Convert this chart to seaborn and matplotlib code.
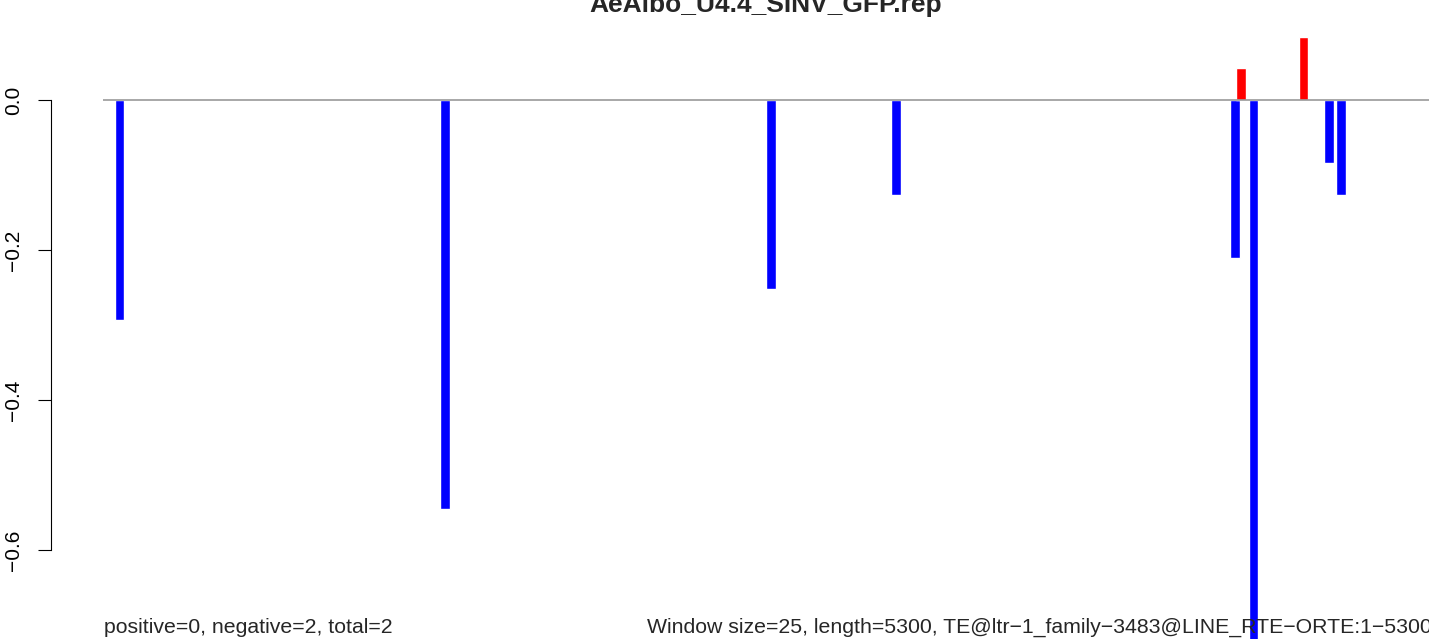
import matplotlib
matplotlib.use('Agg')
import matplotlib.pyplot as plt
import seaborn as sns
import pandas as pd

# window index (25 nt windows) and score per window
windows = [3, 55, 107, 127, 181, 182, 184, 192, 196, 198]
scores = [-0.293, -0.545, -0.252, -0.127, -0.211, 0.043, -0.80, 0.084, -0.084, -0.127]
strand = ['neg', 'neg', 'neg', 'neg', 'neg', 'pos', 'neg', 'pos', 'neg', 'neg']

yticks = [0.0, -0.2, -0.4, -0.6]
ytick_labels = ['0.0', '\u22120.2', '\u22120.4', '\u22120.6']

title = 'AeAlbo_U4.4_SINV_GFP.rep'
left_note = 'positive=0, negative=2, total=2'
right_note = ('Window size=25, length=5300, '
              'TE@ltr\u22121_family\u22123483@LINE_RTE\u2212ORTE:1\u22125300')

df = pd.DataFrame({'window': windows, 'score': scores, 'strand': strand})

sns.set_style('white')
plt.rcParams['font.family'] = ['Liberation Sans', 'DejaVu Sans']

W, H = 1429, 639
fig = plt.figure(figsize=(W / 100, H / 100), dpi=100)
ax = fig.add_axes([103 / W, 0, 1 - 103 / W, 1])

sns.barplot(data=df, x='window', y='score', hue='strand',
            palette={'pos': '#FF0000', 'neg': '#0000FF'},
            native_scale=True, dodge=False, width=1.57,
            errorbar=None, legend=False, saturation=1, ax=ax)

ax.axhline(0, color='#999999', lw=1.2, zorder=5)

# spines first: moving a spine resets the tick objects
for s in ['top', 'right', 'bottom']:
    ax.spines[s].set_visible(False)
ax.spines['left'].set_position(('outward', 37.4))
ax.spines['left'].set_bounds(-0.6, 0)
ax.spines['left'].set_linewidth(0.8)
ax.spines['left'].set_color('black')
ax.patch.set_alpha(0)

ax.set_xlim(0.37, 212.02)
ax.set_ylim(-(H - 100) / 750, 100 / 750)
ax.set_xlabel('')
ax.set_ylabel('')
ax.set_xticks([])
ax.tick_params(axis='y', direction='out', length=9.4, width=0.8,
               color='black', pad=10.5, left=True, labelleft=True,
               labelcolor='black')
ax.set_yticks(yticks)
ax.set_yticklabels(ytick_labels, rotation=90, va='center', ha='right',
                   fontsize=15)

fig.text(766 / W, 1 - 12 / H, title, ha='center', va='baseline',
         fontsize=19, fontweight='bold')
fig.text(104 / W, 1 - 633 / H, left_note, ha='left', va='baseline', fontsize=15.3)
fig.text(647 / W, 1 - 633 / H, right_note, ha='left', va='baseline', fontsize=15.3)

fig.savefig('out.png', dpi=100, facecolor='white')
